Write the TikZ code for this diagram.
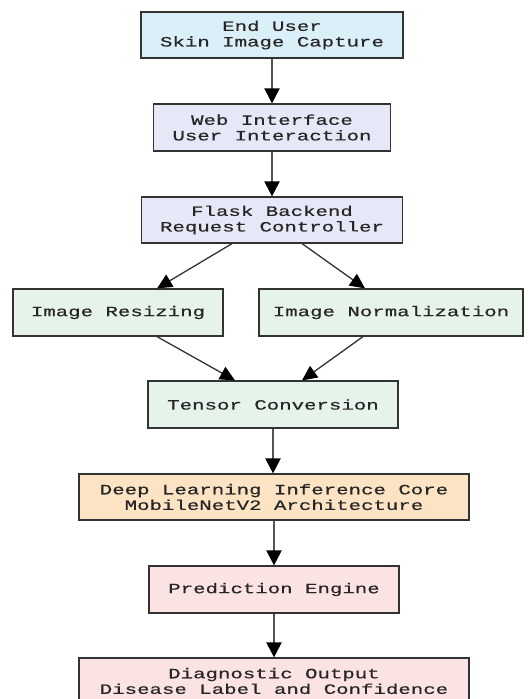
\documentclass[tikz,border=0pt]{standalone}
\usepackage{fontspec}
\usetikzlibrary{arrows.meta}
\newfontfamily\boxfont[FakeStretch=1.46,FakeBold=0.5]{Liberation Mono}
\definecolor{cblue}{HTML}{DAEFF8}
\definecolor{clav}{HTML}{E6E8F7}
\definecolor{cgreen}{HTML}{E6F3EA}
\definecolor{corange}{HTML}{FCE3C4}
\definecolor{cpink}{HTML}{FBE3E3}
\definecolor{cborder}{HTML}{333333}
\definecolor{cline}{HTML}{555555}
\begin{document}
\begin{tikzpicture}[x=1pt,y=-1pt,
  box/.style={draw=cborder,line width=1.2pt,rectangle,inner sep=0pt,align=center,
    font=\boxfont\fontsize{14.2}{15.6}\selectfont,text=black!85},
  conn/.style={draw=cline,line width=2.2pt,-{Triangle[width=15pt,length=15pt,fill=black,color=black]}},
  dconn/.style={draw=black!80,line width=1.3pt,-{Triangle[width=14pt,length=15pt,fill=black,color=black]}}]
\useasboundingbox (0,0) rectangle (528,699);
\fill[white] (0,0) rectangle (528,699);
\clip (0,0) rectangle (528,699);
\node[box,fill=cblue,minimum width=262pt,minimum height=46pt] (b1) at (272,35) {End User\\Skin Image Capture};
\node[box,fill=clav,minimum width=237pt,minimum height=47pt] (b2) at (272,127.5) {Web Interface\\User Interaction};
\node[box,fill=clav,minimum width=261pt,minimum height=46pt] (b3) at (272,220) {Flask Backend\\Request Controller};
\node[box,fill=cgreen,minimum width=210pt,minimum height=47pt] (rs) at (118,312.5) {Image Resizing};
\node[box,fill=cgreen,minimum width=264pt,minimum height=47pt] (nm) at (391,312.5) {Image Normalization};
\node[box,fill=cgreen,minimum width=250pt,minimum height=47pt] (tc) at (273,404.5) {Tensor Conversion};
\node[box,fill=corange,minimum width=390pt,minimum height=46pt] (dl) at (274,497) {Deep Learning Inference Core\\MobileNetV2 Architecture};
\node[box,fill=cpink,minimum width=250pt,minimum height=47pt] (pe) at (274,589.5) {Prediction Engine};
\node[box,fill=cpink,minimum width=390pt,minimum height=46pt] (dg) at (274,681) {Diagnostic Output\\Disease Label and Confidence};
\draw[conn] (b1.south) -- (b2.north);
\draw[conn] (b2.south) -- (b3.north);
\draw[dconn] ([xshift=-40pt]b3.south) -- ([xshift=39pt]rs.north);
\draw[dconn] ([xshift=30pt]b3.south) -- ([xshift=-26pt]nm.north);
\draw[dconn] ([xshift=39pt]rs.south) -- ([xshift=-38pt]tc.north);
\draw[dconn] ([xshift=-28pt]nm.south) -- ([xshift=29pt]tc.north);
\draw[conn] (tc.south) -- (tc.south |- dl.north);
\draw[conn] (dl.south) -- (pe.north);
\draw[conn] (pe.south) -- (dg.north);
\end{tikzpicture}
\end{document}
